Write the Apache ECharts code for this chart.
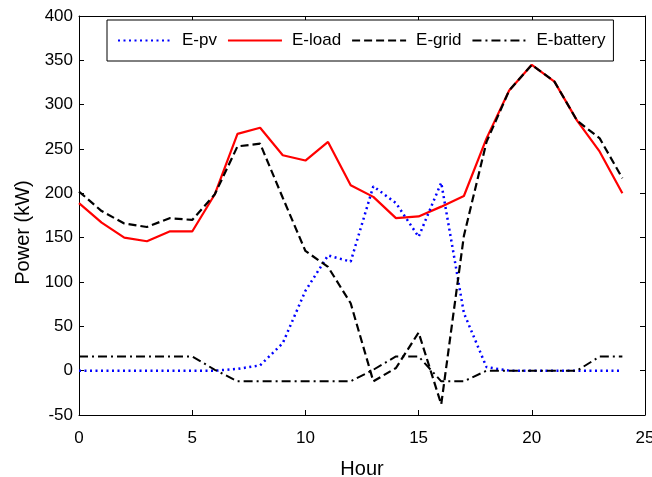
<!DOCTYPE html>
<html>
<head>
<meta charset="utf-8">
<title>Power</title>
<script src="https://cdn.jsdelivr.net/npm/echarts@6/dist/echarts.min.js"></script>
<style>
  html, body { margin: 0; padding: 0; background: #fff; }
  #main { width: 652px; height: 477px; }
</style>
</head>
<body>
<div id="main"></div>
<script>
  var hours = [0, 1, 2, 3, 4, 5, 6, 7, 8, 9, 10, 11, 12, 13, 14, 15, 16, 17, 18, 19, 20, 21, 22, 23, 24];
  var ePv = [0, 0, 0, 0, 0, 0, 0, 2, 6, 31, 90, 130, 123, 208, 189, 151, 212, 65, 4, 0, 0, 0, 0, 0, 0];
  var eLoad = [189, 167, 150, 146, 157, 157, 199, 267, 274, 243, 237, 258, 209, 196, 172, 174, 185, 197, 262, 316, 345, 326, 282, 247, 200];
  var eGrid = [202, 180, 166, 162, 172, 170, 199, 253, 256, 195, 135, 117, 76, -12, 3, 43, -38, 152, 258, 316, 345, 326, 282, 262, 217];
  var eBattery = [16, 16, 16, 16, 16, 16, 1, -12, -12, -12, -12, -12, -12, 1, 16, 16, -12, -12, 0, 0, 0, 0, 0, 16, 16];
  var xTicks = [0, 25, 5];       // min, max, step
  var yTicks = [-50, 400, 50];

  function pairs(vals) {
    return hours.map(function (h, i) { return [h, vals[i]]; });
  }

  var font = 'Liberation Sans, Arial, sans-serif';
  var myChart = echarts.init(document.getElementById('main'), null, { renderer: 'canvas' });

  var frameAxis = {
    axisLine: { show: true, onZero: false, lineStyle: { color: '#000', width: 1 } },
    axisTick: { show: true, inside: true, length: 5, lineStyle: { color: '#000' } },
    splitLine: { show: false }
  };

  option = {
    animation: false,
    backgroundColor: '#fff',
    grid: { left: 79, right: 7, top: 16, bottom: 62, containLabel: false, outerBoundsMode: 'none' },
    legend: {
      left: 107,
      top: 20,
      orient: 'horizontal',
      padding: [12, 8, 12, 10],
      itemWidth: 54,
      itemHeight: 16,
      itemGap: 10,
      borderColor: '#000',
      borderWidth: 1,
      backgroundColor: '#fff',
      // only the line sample, no marker dot
      itemStyle: { color: 'transparent', borderColor: 'transparent', borderWidth: 0 },
      textStyle: { fontFamily: font, fontSize: 17, color: '#000', padding: [0, 0, 0, 5] },
      data: ['E-pv', 'E-load', 'E-grid', 'E-battery']
    },
    xAxis: [
      Object.assign({
        type: 'value', min: xTicks[0], max: xTicks[1], interval: xTicks[2],
        name: 'Hour', nameLocation: 'middle', nameGap: 44,
        nameTextStyle: { fontFamily: font, fontSize: 20, color: '#000' },
        axisLabel: { fontFamily: font, fontSize: 17, color: '#000', margin: 15 }
      }, frameAxis),
      Object.assign({
        type: 'value', position: 'top', min: xTicks[0], max: xTicks[1], interval: xTicks[2],
        axisLabel: { show: false }
      }, frameAxis)
    ],
    yAxis: [
      Object.assign({
        type: 'value', min: yTicks[0], max: yTicks[1], interval: yTicks[2],
        name: 'Power (kW)', nameLocation: 'middle', nameGap: 45, nameRotate: 90,
        // label sits a little below the middle of the axis
        nameTextStyle: { fontFamily: font, fontSize: 20, color: '#000', padding: [0, 34, 0, 0] },
        axisLabel: { fontFamily: font, fontSize: 17, color: '#000', margin: 6 }
      }, frameAxis),
      Object.assign({
        type: 'value', position: 'right', min: yTicks[0], max: yTicks[1], interval: yTicks[2],
        axisLabel: { show: false }
      }, frameAxis)
    ],
    series: [
      {
        name: 'E-pv', type: 'line', symbol: 'none', data: pairs(ePv),
        lineStyle: { color: '#0000ff', width: 2.5, type: [2, 3.5] },
        itemStyle: { color: '#0000ff' }, z: 3
      },
      {
        name: 'E-load', type: 'line', symbol: 'none', data: pairs(eLoad),
        lineStyle: { color: '#ff0000', width: 2.2, type: 'solid' },
        itemStyle: { color: '#ff0000' }, z: 2
      },
      {
        name: 'E-grid', type: 'line', symbol: 'none', data: pairs(eGrid),
        lineStyle: { color: '#000', width: 2.2, type: [8, 4] },
        itemStyle: { color: '#000' }, z: 4
      },
      {
        name: 'E-battery', type: 'line', symbol: 'none', data: pairs(eBattery),
        lineStyle: { color: '#000', width: 2, type: [9, 4, 2, 4] },
        itemStyle: { color: '#000' }, z: 4
      }
    ]
  };
  myChart.setOption(option);
</script>
</body>
</html>
